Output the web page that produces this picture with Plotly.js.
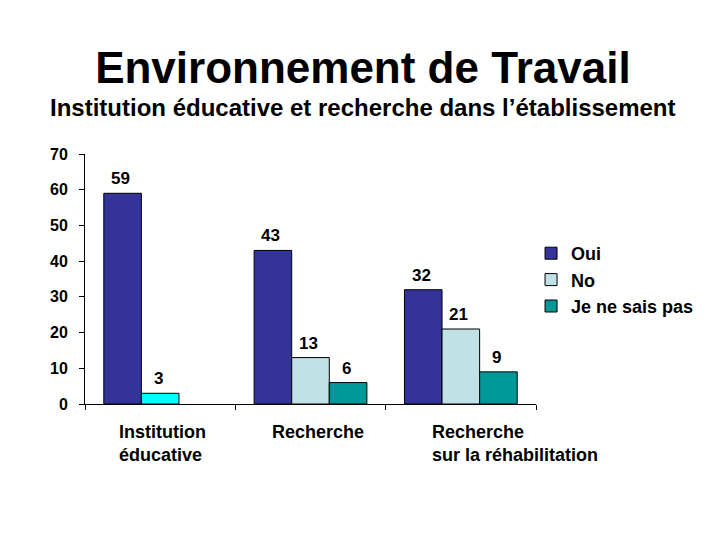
<!DOCTYPE html>
<html>
<head>
<meta charset="utf-8">
<script src="https://cdn.plot.ly/plotly-3.0.1.min.js"></script>
<style>html,body{margin:0;padding:0;background:#fff;}#chart{width:720px;height:540px;}</style>
</head>
<body>
<div id="chart"></div>
<script>
// ---- data ----
const categories = ['Institution éducative', 'Recherche', 'Recherche sur la réhabilitation'];
const categoryLabels = ['Institution<br>éducative', 'Recherche', 'Recherche<br>sur la réhabilitation'];
const seriesNames = ['Oui', 'No', 'Je ne sais pas'];
const ouiValues = [59, 43, 32];
const noValues = [3, 13, 21];
const nspValues = [null, 6, 9];
const yTicks = [0, 10, 20, 30, 40, 50, 60, 70];
const titleText = 'Environnement de Travail';
const subtitleText = 'Institution éducative et recherche dans l’établissement';

// ---- styles ----
const FONT = 'Liberation Sans, Arial, sans-serif';
const cOui = '#333399';
const cNo = '#C0E2E6';
const cNoFirst = '#00FFFF';
const cNsp = '#009999';
const barLine = {color: '#000000', width: 1};
const valueFont = {family: FONT, size: 17, color: '#000', weight: 700};
const catFont = {family: FONT, size: 18, color: '#000', weight: 700};

function barTrace(name, vals, color) {
  return {
    type: 'bar', name: name, x: categories, y: vals,
    marker: {color: color, line: barLine},
    hoverinfo: 'skip'
  };
}

const seriesValues = [ouiValues, noValues, nspValues];
const traces = [
  barTrace(seriesNames[0], ouiValues, cOui),
  barTrace(seriesNames[1], noValues, noValues.map((v, i) => i === 0 ? cNoFirst : cNo)),
  barTrace(seriesNames[2], nspValues, cNsp)
];

const annotations = [];
// value labels above each bar (positioned in data coordinates)
const barStep = 37.6;
seriesValues.forEach((vals, j) => {
  vals.forEach((v, i) => {
    if (v === null) return;
    annotations.push({
      x: categories[i], xref: 'x', y: v, yref: 'y',
      xanchor: 'center', yanchor: 'bottom',
      xshift: (j - 1) * barStep - 2, yshift: 3,
      text: String(v), showarrow: false, font: valueFont
    });
  });
});
// category labels (left-aligned, as in the reference)
const labelShifts = [-43, -41, -31];
categories.forEach((c, i) => {
  annotations.push({
    x: c, xref: 'x', y: 0, yref: 'y', yanchor: 'top', xanchor: 'left',
    xshift: labelShifts[i], yshift: -16, align: 'left',
    text: categoryLabels[i], showarrow: false, font: catFont
  });
});
annotations.push({
  x: 0.616, xref: 'paper', y: 1.188, yref: 'paper', xanchor: 'center', yanchor: 'middle',
  text: subtitleText, showarrow: false,
  font: {family: FONT, size: 24, color: '#000', weight: 700}
});

const layout = {
  width: 720, height: 540,
  paper_bgcolor: '#ffffff', plot_bgcolor: '#ffffff',
  margin: {l: 85, r: 184, t: 154, b: 136, pad: 0},
  title: {
    text: titleText, x: 0.504, xref: 'container', xanchor: 'center',
    y: 0.874, yref: 'container', yanchor: 'middle',
    font: {family: FONT, size: 44, color: '#000', weight: 700}
  },
  barmode: 'group', bargap: 0.25, bargroupgap: 0,
  xaxis: {
    type: 'category', categoryarray: categories, range: [-0.5, 2.5],
    showticklabels: false, showgrid: false, zeroline: false,
    showline: true, linecolor: '#000', linewidth: 1,
    ticks: 'outside', tickson: 'boundaries', ticklen: 5, tickcolor: '#000',
    fixedrange: true
  },
  yaxis: {
    range: [0, 70], tickvals: yTicks, ticktext: yTicks.map(String),
    showgrid: false, zeroline: false,
    showline: true, linecolor: '#000', linewidth: 1,
    ticks: 'outside', ticklen: 5, tickcolor: '#000', ticklabelstandoff: 8,
    tickfont: {family: FONT, size: 16, color: '#000', weight: 700},
    fixedrange: true
  },
  showlegend: true,
  legend: {
    x: 0.989, xanchor: 'left', y: 0.496, yanchor: 'middle',
    font: {family: FONT, size: 18, color: '#000', weight: 700},
    bgcolor: 'rgba(0,0,0,0)', borderwidth: 0, tracegroupgap: 0,
    itemwidth: 30
  },
  annotations: annotations
};

Plotly.newPlot('chart', traces, layout, {displayModeBar: false, staticPlot: true}).then(() => {
  // legend swatch of "No" uses the regular light colour
  const items = document.querySelectorAll('.legend .traces');
  if (items[1]) {
    const p = items[1].querySelector('.legendpoints path');
    if (p) p.style.fill = cNo;
  }
});
</script>
</body>
</html>
